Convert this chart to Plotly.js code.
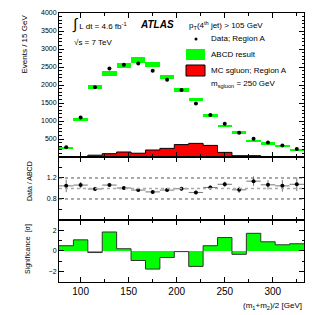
<!DOCTYPE html>
<html>
<head>
<meta charset="utf-8">
<script src="https://cdn.plot.ly/plotly-3.0.1.min.js"></script>
<style>html,body{margin:0;padding:0;background:#fff;}#c{width:331px;height:315px;}</style>
</head>
<body>
<div id="c"></div>
<script>
// bin centres (GeV), bin width 15 GeV
var binCenters = [85,100,115,130,145,160,175,190,205,220,235,250,265,280,295,310,325];
var binWidth = 15;
// ABCD result (events / 15 GeV) and its uncertainty
var abcd    = [250,1040,1955,2315,2535,2695,2570,2215,1870,1600,1145,862,683,453,378,306,204];
var abcdErr = [25,40,55,65,65,70,65,60,55,50,45,38,34,30,26,24,22];
// Data, region A
var dataA   = [268,1100,1935,2460,2565,2600,2398,2148,1862,1485,1165,925,675,508,406,322,222];
// MC sgluon, region A
var sgluon  = [0,3,50,92,139,105,194,239,345,378,322,128,36,36,10,5,3];
// Data / ABCD
var ratio    = [1.05,1.065,0.99,1.065,1.01,0.97,0.935,0.97,0.995,0.925,1.02,1.08,0.975,1.14,1.07,1.05,1.08];
var ratioErr = [0.12,0.06,0.04,0.035,0.03,0.03,0.03,0.03,0.035,0.035,0.04,0.05,0.06,0.09,0.09,0.11,0.13];
// Significance [sigma]
var signif = [0.51,1.08,-0.15,1.84,0.22,-0.92,-1.75,-0.63,-0.06,-1.49,0.51,1.30,-0.32,1.71,0.89,0.60,0.70];

var mainYTicks = [500,1000,1500,2000,2500,3000,3500,4000];
var ratioYTicks = [0.8,1.2];
var sigYTicks = [-2,0,2];
var xTicks = [100,150,200,250,300];

function steps(vals){
  var xs=[], ys=[];
  for (var i=0;i<binCenters.length;i++){
    xs.push(binCenters[i]-binWidth/2, binCenters[i]+binWidth/2);
    ys.push(vals[i], vals[i]);
  }
  return {x:xs, y:ys};
}
var redSteps = steps(sgluon);
var sigSteps = steps(signif);
var halfW = binCenters.map(function(){return binWidth/2;});
var xLo = binCenters[0]-binWidth/2, xHi = binCenters[binCenters.length-1]+binWidth/2;

var FONT = 'Liberation Sans, Arial, Helvetica, sans-serif';
var GREEN = '#00ff00';

var traces = [
  {type:'scatter', mode:'lines', x:redSteps.x, y:redSteps.y, fill:'tozeroy',
   fillcolor:'#ff0000', line:{color:'#000', width:1},
   xaxis:'x2', yaxis:'y', hoverinfo:'skip'},
  {type:'bar', x:binCenters, y:abcdErr.map(function(e){return 2*e;}),
   base:abcd.map(function(v,i){return v-abcdErr[i];}), width:binWidth,
   marker:{color:GREEN, line:{width:0}}, xaxis:'x2', yaxis:'y'},
  {type:'scatter', mode:'markers', x:binCenters, y:dataA,
   marker:{color:'#000', size:4}, xaxis:'x2', yaxis:'y'},
  {type:'scatter', mode:'markers', x:binCenters, y:ratio,
   marker:{color:'#000', size:4},
   error_y:{type:'data', array:ratioErr, color:'#777', thickness:1, width:0},
   error_x:{type:'data', array:halfW, color:'#777', thickness:1, width:0},
   xaxis:'x3', yaxis:'y2'},
  {type:'scatter', mode:'lines', x:sigSteps.x, y:sigSteps.y, fill:'tozeroy',
   fillcolor:GREEN, line:{color:'#333', width:1},
   xaxis:'x', yaxis:'y3', hoverinfo:'skip'}
];

var dMain=[0.4647,1], dRatio=[0.2305,0.4647], dSig=[0,0.2305];
function xax(anchor, labels){
  var a = {domain:[0,1], range:[xLo,xHi], anchor:anchor, showline:true, linecolor:'#000', linewidth:1,
    mirror:'ticks', ticks:'inside', ticklen:5, tickcolor:'#000', tickvals:xTicks,
    showticklabels:labels, tickfont:{family:FONT, size:10, color:'#000'},
    minor:{dtick:25, ticks:'inside', ticklen:3, tickcolor:'#000'},
    showgrid:false, zeroline:false};
  if (anchor!=='y3') a.matches='x';
  return a;
}
function yax(domain, range, tickvals, minorD, anchor){
  return {domain:domain, range:range, anchor:anchor, showline:true, linecolor:'#000', linewidth:1,
    mirror:'ticks', ticks:'inside', ticklen:5, tickcolor:'#000', tickvals:tickvals,
    tickfont:{family:FONT, size:7, color:'#000'},
    minor:{dtick:minorD, ticks:'inside', ticklen:2.5, tickcolor:'#000'},
    showgrid:false, zeroline:false};
}

function px(x){return (x-59)/245;}
function py(y){return (282-y)/269;}

var ann = [
  {text:'Events / 15 GeV', x:px(24), y:1, textangle:-90, xanchor:'center', yanchor:'top', size:8},
  {text:'Data / ABCD', x:px(29), y:py(159), textangle:-90, xanchor:'center', yanchor:'top', size:7},
  {text:'Significance  [σ]', x:px(28), y:py(222), textangle:-90, xanchor:'center', yanchor:'top', size:7},
  {text:'(m<sub>1</sub>+m<sub>2</sub>)/2 [GeV]', x:1, y:py(306), xanchor:'right', yanchor:'middle', size:8},
  {text:'<span style="font-size:15px">∫</span> L dt = 4.6 fb<sup>-1</sup>', x:px(70), y:py(24), xanchor:'left', yanchor:'middle', size:8},
  {text:'<b><i>ATLAS</i></b>', x:px(138), y:py(24), xanchor:'left', yanchor:'middle', size:10},
  {text:'√s = 7 TeV', x:px(72), y:py(42), xanchor:'left', yanchor:'middle', size:8},
  {text:'p<sub>T</sub>(4<sup>th</sup> jet) > 105 GeV', x:px(187), y:py(25), xanchor:'left', yanchor:'middle', size:8},
  {text:'Data; Region A', x:px(209), y:py(39), xanchor:'left', yanchor:'middle', size:8},
  {text:'ABCD result', x:px(209), y:py(54), xanchor:'left', yanchor:'middle', size:8},
  {text:'MC sgluon; Region A', x:px(209), y:py(70), xanchor:'left', yanchor:'middle', size:8},
  {text:'m<sub>sgluon</sub> = 250 GeV', x:px(209), y:py(84), xanchor:'left', yanchor:'middle', size:8}
].map(function(a){
  var o = {text:a.text, x:a.x, y:a.y, xanchor:a.xanchor, yanchor:a.yanchor,
    xref:'paper', yref:'paper', showarrow:false,
    font:{family:FONT, size:a.size, color:'#000'}};
  if (a.textangle) o.textangle = a.textangle;
  return o;
});

var shapes = [
  {type:'line', xref:'paper', x0:0, x1:1, yref:'y2', y0:1.2, y1:1.2, line:{color:'#555', width:1, dash:'dot'}},
  {type:'line', xref:'paper', x0:0, x1:1, yref:'y2', y0:1.0, y1:1.0, line:{color:'#aaa', width:1.5, dash:'dot'}},
  {type:'line', xref:'paper', x0:0, x1:1, yref:'y2', y0:0.8, y1:0.8, line:{color:'#555', width:1, dash:'dot'}},
  {type:'circle', xref:'paper', yref:'paper', x0:px(194.5), x1:px(197.5), y0:py(40.5), y1:py(37.5), fillcolor:'#000', line:{width:0}},
  {type:'rect', xref:'paper', yref:'paper', x0:px(186), x1:px(205), y0:py(60), y1:py(49), fillcolor:GREEN, line:{width:0}},
  {type:'rect', xref:'paper', yref:'paper', x0:px(186), x1:px(205), y0:py(76), y1:py(65), fillcolor:'#ff0000', line:{color:'#000', width:1}}
];

var layout = {
  width:331, height:315, margin:{l:59, r:27, t:13, b:33},
  paper_bgcolor:'#fff', plot_bgcolor:'rgba(0,0,0,0)',
  showlegend:false, barmode:'overlay', bargap:0,
  font:{family:FONT, size:8, color:'#000'},
  xaxis: xax('y3', true),
  xaxis2: xax('y', false),
  xaxis3: xax('y2', false),
  yaxis: yax(dMain, [0,4000], mainYTicks, 100, 'x2'),
  yaxis2: yax(dRatio, [0.4,1.6], ratioYTicks, 0.2, 'x3'),
  yaxis3: yax(dSig, [-3,3], sigYTicks, 1, 'x'),
  annotations: ann,
  shapes: shapes
};

Plotly.newPlot('c', traces, layout, {displayModeBar:false});
</script>
</body>
</html>
